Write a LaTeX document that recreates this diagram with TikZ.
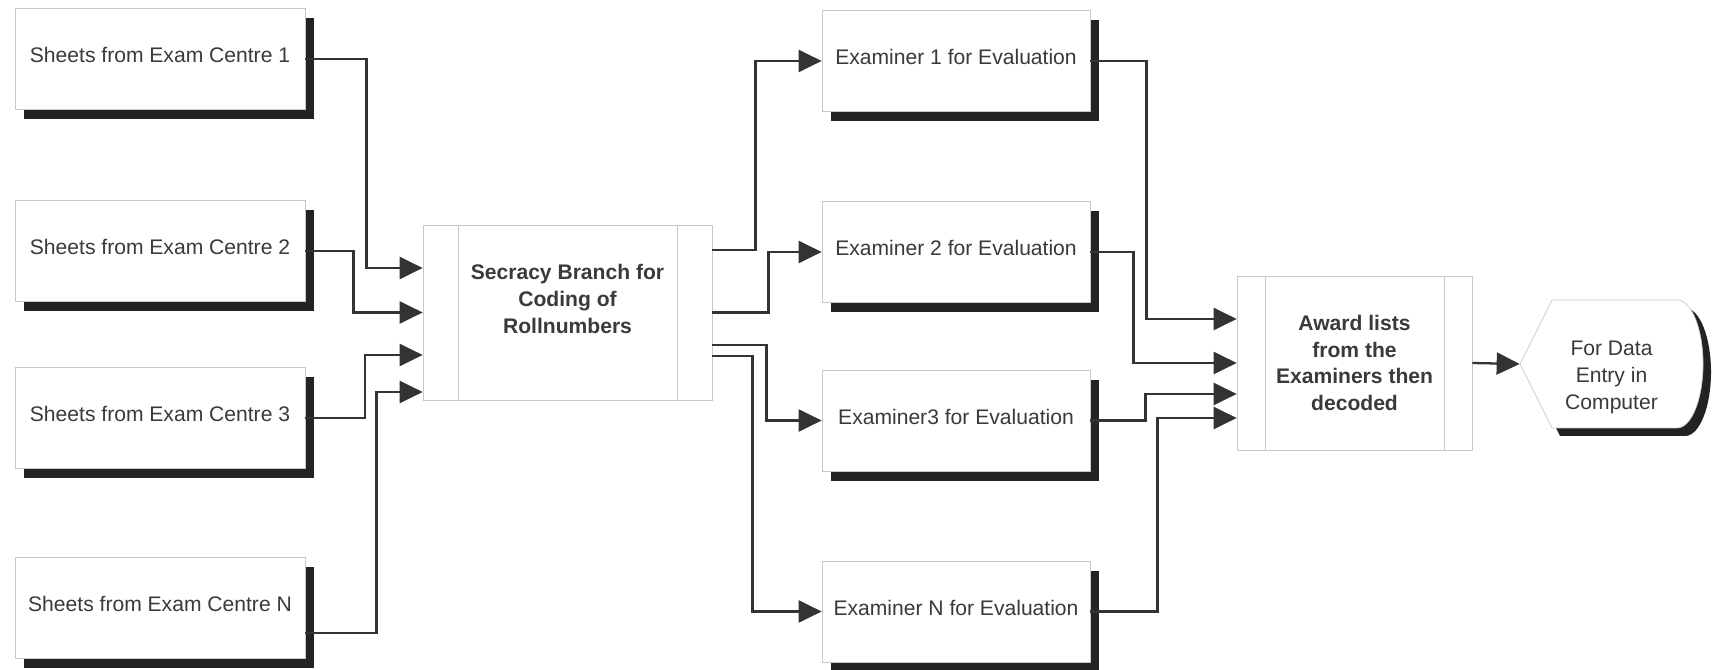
\documentclass[tikz,border=0pt]{standalone}
\usepackage{fontspec}
\setmainfont{Liberation Sans}
\usepackage{xcolor}
\usepackage{tikz}
\usetikzlibrary{shapes,arrows.meta,positioning,shadows}

\definecolor{boxgray}{HTML}{C8C8C8}
\definecolor{textgray}{HTML}{3A3A3A}
\definecolor{linegray}{HTML}{333333}
\definecolor{shadowgray}{HTML}{232323}

\tikzset{
    sheet/.style = {rectangle, minimum width=5.8cm, minimum height=2.02cm, text depth=0.16cm, draw=boxgray, fill=white, text=textgray, font=\fontsize{12}{15.3}\selectfont, drop shadow={shadow xshift=0.18cm, shadow yshift=-0.2cm, fill=shadowgray, opacity=1}},
    examiner/.style = {sheet, minimum width=5.36cm},
    branch/.style = {rectangle, align=center, draw=boxgray, fill=white, text=textgray, font=\fontsize{12}{15.3}\selectfont\bfseries, path picture={
        \draw [boxgray] ([xshift=#1]path picture bounding box.north west) -- ([xshift=#1]path picture bounding box.south west);
        \draw [boxgray] ([xshift=-#1]path picture bounding box.north east) -- ([xshift=-#1]path picture bounding box.south east);}},
    display/.style = {rectangle, minimum width=3.66cm, minimum height=2.56cm, text height=1.91cm, align=center, text=textgray, font=\fontsize{12}{15.3}\selectfont}
}

\begin{document}
\begin{tikzpicture}[
    >={Triangle[length=0.46cm, width=0.44cm]},
    link/.style={->, draw=linegray, line width=1.3pt}
]
    \useasboundingbox (0,0) rectangle (34.68,13.4);

    % exam centres
    \node [sheet] (c1) at (3.2,12.22) {Sheets from Exam Centre 1};
    \node [sheet, below of=c1, node distance=3.84cm] (c2) {Sheets from Exam Centre 2};
    \node [sheet, below of=c2, node distance=3.34cm] (c3) {Sheets from Exam Centre 3};
    \node [sheet, below of=c3, node distance=3.8cm] (cN) {Sheets from Exam Centre N};

    \node [branch=0.7cm, minimum width=5.78cm, minimum height=3.5cm, text depth=0.56cm] (secracy) at (11.35,7.15) {Secracy Branch for\\Coding of\\Rollnumbers};

    % examiners
    \node [examiner] (ex1) at (19.12,12.18) {Examiner 1 for Evaluation};
    \node [examiner, below of=ex1, node distance=3.82cm] (ex2) {Examiner 2 for Evaluation};
    \node [examiner, below of=ex2, node distance=3.37cm] (ex3) {Examiner3 for Evaluation};
    \node [examiner, below of=ex3, node distance=3.82cm] (exN) {Examiner N for Evaluation};

    \node [branch=0.56cm, minimum width=4.7cm, minimum height=3.48cm] (award) at (27.09,6.14) {Award lists\\from the\\Examiners then\\decoded};

    % display symbol
    \draw [boxgray, fill=white, drop shadow={shadow xshift=0.16cm, shadow yshift=-0.16cm, fill=shadowgray, opacity=1}]
        (30.4,6.12) -- (31.04,7.4) -- (33.54,7.4) arc [start angle=90, end angle=-90, x radius=0.52cm, y radius=1.28cm] -- (31.04,4.84) -- cycle;
    \node [display] (entry) at (32.23,6.12) {For Data\\Entry in\\Computer};

    \draw [link] (c1.east) -- ++(1.22,0) |- ([yshift=0.89cm]secracy.west);
    \draw [link] (c2.east) -- ++(0.96,0) |- (secracy.west);
    \draw [link] (c3.east) -- ++(1.2,0) |- ([yshift=-0.85cm]secracy.west);
    \draw [link] ([yshift=-0.5cm]cN.east) -- ++(1.42,0) |- ([yshift=-1.59cm]secracy.west);

    \draw [link] ([yshift=1.25cm]secracy.east) -- ++(0.86,0) |- (ex1.west);
    \draw [link] (secracy.east) -- ++(1.12,0) |- (ex2.west);
    \draw [link] ([yshift=-0.65cm]secracy.east) -- ++(1.08,0) |- (ex3.west);
    \draw [link] ([yshift=-0.87cm]secracy.east) -- ++(0.8,0) |- (exN.west);

    \draw [link] (ex1.east) -- ++(1.12,0) |- ([yshift=0.88cm]award.west);
    \draw [link] (ex2.east) -- ++(0.86,0) |- (award.west);
    \draw [link] (ex3.east) -- ++(1.1,0) |- ([yshift=-0.62cm]award.west);
    \draw [link] (exN.east) -- ++(1.34,0) |- ([yshift=-1.1cm]award.west);

    \draw [link] (award.east) -- (entry.west);
\end{tikzpicture}
\end{document}
